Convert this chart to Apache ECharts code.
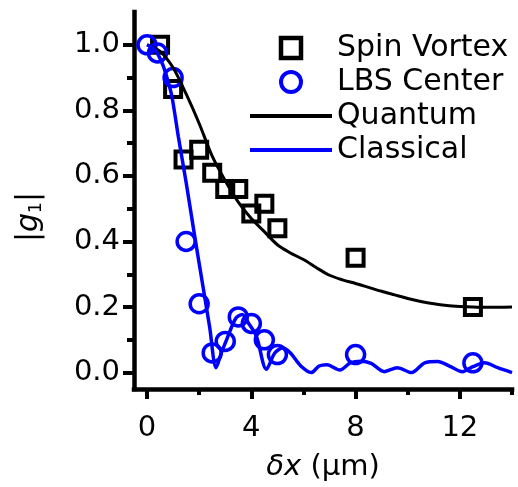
<!DOCTYPE html>
<html>
<head>
<meta charset="utf-8">
<script src="https://cdn.jsdelivr.net/npm/echarts@6/dist/echarts.min.js"></script>
<style>
  html, body { margin: 0; padding: 0; background: #fff; }
  #chart { width: 518px; height: 487px; }
</style>
</head>
<body>
<div id="chart"></div>
<script>
// Spin Vortex (squares)
const svX = [0.5, 1.0, 1.4, 2.0, 2.5, 3.0, 3.5, 4.0, 4.5, 5.0, 8.0, 12.5]
const svY = [1.0, 0.865, 0.65, 0.68, 0.61, 0.56, 0.56, 0.485, 0.515, 0.44, 0.35, 0.20]

// LBS Center (circles)
const lbsX = [0, 0.4, 1.0, 1.5, 2.0, 2.5, 3.0, 3.5, 4.0, 4.5, 5.0, 8.0, 12.5]
const lbsY = [1.0, 0.975, 0.9, 0.40, 0.21, 0.06, 0.095, 0.17, 0.15, 0.10, 0.055, 0.055, 0.03]

// Quantum curve
const qX = [0, 0.5, 1.0, 1.5, 2.0, 2.5, 3.0, 3.5, 4.0, 4.5, 5.0, 5.5, 6.0, 6.5, 7.0, 7.5, 8.0, 8.5, 9.0, 9.5, 10, 10.5, 11, 11.5, 12, 12.5, 13, 14]
const qY = [1.0, 0.98, 0.93, 0.85, 0.76, 0.66, 0.585, 0.52, 0.47, 0.43, 0.39, 0.365, 0.345, 0.32, 0.297, 0.283, 0.272, 0.26, 0.248, 0.237, 0.226, 0.217, 0.21, 0.205, 0.202, 0.2, 0.199, 0.2]

// Classical curve
const cX = [0, 0.3, 0.6, 0.8, 0.96, 1.2, 1.5, 1.8, 2.1, 2.4, 2.65, 2.85, 3.05, 3.4, 3.65, 3.9, 4.2, 4.58, 4.9, 5.2, 5.5, 5.9, 6.3, 6.6, 6.9, 7.4, 7.8, 8.2, 8.6, 9.1, 9.6, 10.15, 10.65, 11.15, 11.6, 12.1, 12.5, 12.95, 13.45, 14]
const cY = [1.0, 0.985, 0.94, 0.89, 0.84, 0.72, 0.58, 0.43, 0.285, 0.14, 0.015, 0.06, 0.10, 0.165, 0.177, 0.15, 0.11, 0.01, 0.06, 0.075, 0.06, 0.02, 0.0, 0.02, 0.024, 0.008, 0.03, 0.035, 0.028, 0.003, 0.015, 0.0, 0.03, 0.034, 0.02, 0.003, 0.018, 0.03, 0.015, 0.0]

// tick positions
const xMajor = [0, 4, 8, 12]
const xMinor = [2, 6, 10, 14]
const yMajor = [0, 0.2, 0.4, 0.6, 0.8, 1.0]
const yMinor = [0.1, 0.3, 0.5, 0.7, 0.9]

const zip = (xs, ys) => xs.map((x, i) => [x, ys[i]])

const font = 'DejaVu Sans'
const blue = '#0000ff'

const axisLine = { show: true, onZero: false, lineStyle: { color: '#000', width: 4.5, cap: 'square' } }
const noLine = { show: false, onZero: false }

// legend icons kept square / round via path symbols
const squareIcon = 'path://M0,0H10V10H0Z'
const circleIcon = 'path://M5,0A5,5,0,1,1,5,10A5,5,0,1,1,5,0Z'
const lineIcon = 'path://M0,0H82V4H0Z'

const chart = echarts.init(document.getElementById('chart'))

chart.setOption({
  animation: false,
  grid: { left: 134, right: 6, top: 12, bottom: 98 },
  legend: {
    orient: 'vertical',
    left: 245,
    top: 28,
    itemWidth: 82,
    itemHeight: 20,
    itemGap: 4,
    textStyle: { fontFamily: font, fontSize: 30, color: '#000' },
    data: [
      { name: 'Spin Vortex', icon: squareIcon, itemStyle: { color: 'transparent', borderColor: '#000', borderWidth: 4.5, opacity: 1 } },
      { name: 'LBS Center', icon: circleIcon, itemStyle: { color: 'transparent', borderColor: blue, borderWidth: 4, opacity: 1 } },
      { name: 'Quantum', icon: lineIcon, itemStyle: { color: '#000', borderWidth: 0 } },
      { name: 'Classical', icon: lineIcon, itemStyle: { color: blue, borderWidth: 0 } },
    ],
  },
  graphic: [
    {
      type: 'text',
      x: 29,
      y: 217,
      rotation: Math.PI / 2,
      style: {
        text: '|{g|g}{s|1}|',
        fontFamily: font,
        fontSize: 30,
        fill: '#000',
        align: 'center',
        verticalAlign: 'middle',
        rich: {
          g: { fontFamily: font, fontSize: 30, fontStyle: 'italic', fill: '#000' },
          s: { fontFamily: font, fontSize: 17, fill: '#000', padding: [16, 0, 0, 0] },
        },
      },
    },
  ],
  xAxis: [
    {
      type: 'value',
      min: -0.5,
      max: 14,
      axisLine,
      splitLine: { show: false },
      axisTick: { show: true, customValues: xMajor, length: 10, lineStyle: { width: 4, color: '#000' } },
      axisLabel: { customValues: xMajor, margin: 25, fontFamily: font, fontSize: 29, color: '#000' },
      name: '{i|δx} (μm)',
      nameLocation: 'middle',
      nameGap: 64,
      nameTextStyle: {
        fontFamily: font,
        fontSize: 29,
        color: '#000',
        rich: { i: { fontFamily: font, fontSize: 29, fontStyle: 'italic', color: '#000' } },
      },
    },
    {
      type: 'value',
      min: -0.5,
      max: 14,
      position: 'bottom',
      axisLine: noLine,
      splitLine: { show: false },
      axisTick: { show: true, customValues: xMinor, length: 6, lineStyle: { width: 4, color: '#000' } },
      axisLabel: { show: false },
    },
  ],
  yAxis: [
    {
      type: 'value',
      min: -0.05,
      max: 1.1,
      axisLine,
      splitLine: { show: false },
      axisTick: { show: true, customValues: yMajor, length: 11, lineStyle: { width: 4, color: '#000' } },
      axisLabel: {
        customValues: yMajor,
        margin: 14,
        fontFamily: font,
        fontSize: 29,
        color: '#000',
        formatter: v => v.toFixed(1),
      },
    },
    {
      type: 'value',
      min: -0.05,
      max: 1.1,
      position: 'left',
      axisLine: noLine,
      splitLine: { show: false },
      axisTick: { show: true, customValues: yMinor, length: 7, lineStyle: { width: 4, color: '#000' } },
      axisLabel: { show: false },
    },
  ],
  series: [
    {
      name: 'Spin Vortex',
      type: 'scatter',
      symbol: 'rect',
      symbolSize: 16,
      itemStyle: { color: 'transparent', borderColor: '#000', borderWidth: 4, opacity: 1 },
      data: zip(svX, svY),
    },
    {
      name: 'LBS Center',
      type: 'scatter',
      symbol: 'circle',
      symbolSize: 18,
      itemStyle: { color: 'transparent', borderColor: blue, borderWidth: 3.5, opacity: 1 },
      data: zip(lbsX, lbsY),
    },
    {
      name: 'Quantum',
      type: 'line',
      smooth: 0.3,
      showSymbol: false,
      symbol: 'none',
      color: '#000',
      lineStyle: { color: '#000', width: 3 },
      data: zip(qX, qY),
    },
    {
      name: 'Classical',
      type: 'line',
      smooth: 0.3,
      showSymbol: false,
      symbol: 'none',
      color: blue,
      lineStyle: { color: blue, width: 3.5 },
      data: zip(cX, cY),
    },
  ],
})
</script>
</body>
</html>
